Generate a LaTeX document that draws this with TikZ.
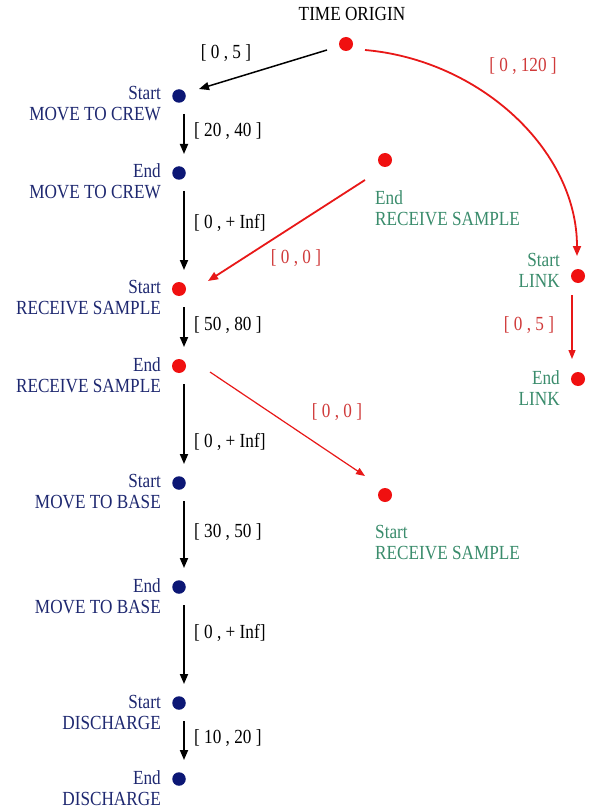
\documentclass[tikz,border=0pt]{standalone}
\usepackage{fontspec}
\setmainfont[FakeStretch=0.86]{Liberation Serif}
\usetikzlibrary{arrows.meta}
\definecolor{navydot}{HTML}{0C1775}
\definecolor{navytxt}{HTML}{1E2870}
\definecolor{greentxt}{HTML}{3A8C6C}
\definecolor{reddot}{HTML}{F01010}
\definecolor{redline}{HTML}{E81818}
\definecolor{redtxt}{HTML}{D03A3A}
\begin{document}
\begin{tikzpicture}[x=1pt,y=-1pt,
  every node/.style={font=\rmfamily\fontsize{20}{21}\selectfont},
  bdot/.style={circle,fill=navydot,inner sep=0pt,minimum size=13.5pt},
  rdot/.style={circle,fill=reddot,inner sep=0pt,minimum size=14pt},
  llab/.style={align=right,anchor=east,inner sep=0pt,text=navytxt},
  glabl/.style={align=left,anchor=west,inner sep=0pt,text=greentxt},
  glabr/.style={align=right,anchor=east,inner sep=0pt,text=greentxt},
  ival/.style={anchor=west,inner sep=0pt,text=black},
  rval/.style={inner sep=0pt,text=redtxt},
  arr/.style={line width=1.8pt,-{Triangle[length=10pt,width=8pt]}},
  rarr/.style={draw=redline,line width=1.8pt,-{Triangle[length=10pt,width=8pt]},color=redline},
  rarrthin/.style={draw=redline,line width=1.2pt,-{Triangle[length=9pt,width=7pt]},color=redline}
]
\useasboundingbox (0,0) rectangle (594,810);
\fill[white] (0,0) rectangle (594,810);

% time origin
\node[inner sep=0pt] (totxt) at (352,14) {TIME ORIGIN};
\node[rdot] (to) at (346,44) {};

% left column dots
\node[bdot] (smc) at (179,96) {};
\node[bdot] (emc) at (179,173) {};
\node[rdot] (srs) at (179,289) {};
\node[rdot] (ers) at (179,366) {};
\node[bdot] (smb) at (179,483) {};
\node[bdot] (emb) at (179,587) {};
\node[bdot] (sd) at (179,703) {};
\node[bdot] (ed) at (179,779) {};

% left labels
\node[llab] (lsmc) at (161,104) {Start\\MOVE TO CREW};
\node[llab] (lemc) at (161,181.5) {End\\MOVE TO CREW};
\node[llab] (lsrs) at (161,298) {Start\\RECEIVE SAMPLE};
\node[llab] (lers) at (161,375) {End\\RECEIVE SAMPLE};
\node[llab] (lsmb) at (161,492) {Start\\MOVE TO BASE};
\node[llab] (lemb) at (161,596) {End\\MOVE TO BASE};
\node[llab] (lsd) at (161,712) {Start\\DISCHARGE};
\node[llab] (led) at (161,788) {End\\DISCHARGE};

% right dots
\node[rdot] (ers2) at (385,160) {};
\node[rdot] (sl) at (578,276) {};
\node[rdot] (el) at (578,379) {};
\node[rdot] (srs2) at (385,495) {};

% right labels
\node[glabl] (lers2) at (375,208.5) {End\\RECEIVE SAMPLE};
\node[glabr] (lsl) at (560,270.5) {Start\\LINK};
\node[glabr] (lel) at (560,388.5) {End\\LINK};
\node[glabl] (lsrs2) at (375,543) {Start\\RECEIVE SAMPLE};

% vertical black arrows
\draw[arr] ([xshift=5pt,yshift=-18pt]smc.center) -- ([xshift=5pt,yshift=19pt]emc.center);
\draw[arr] ([xshift=5pt,yshift=-18pt]emc.center) -- ([xshift=5pt,yshift=19pt]srs.center);
\draw[arr] ([xshift=5pt,yshift=-18pt]srs.center) -- ([xshift=5pt,yshift=19pt]ers.center);
\draw[arr] ([xshift=5pt,yshift=-18pt]ers.center) -- ([xshift=5pt,yshift=19pt]smb.center);
\draw[arr] ([xshift=5pt,yshift=-18pt]smb.center) -- ([xshift=5pt,yshift=19pt]emb.center);
\draw[arr] ([xshift=5pt,yshift=-18pt]emb.center) -- ([xshift=5pt,yshift=19pt]sd.center);
\draw[arr] ([xshift=5pt,yshift=-18pt]sd.center) -- ([xshift=5pt,yshift=19pt]ed.center);

% interval labels left
\node[ival] (i1) at (194,131) {[ 20 , 40 ]};
\node[ival] (i2) at (194,223) {[ 0 , + Inf]};
\node[ival] (i3) at (194,325) {[ 50 , 80 ]};
\node[ival] (i4) at (194,442) {[ 0 , + Inf]};
\node[ival] (i5) at (194,532) {[ 30 , 50 ]};
\node[ival] (i6) at (194,633) {[ 0 , + Inf]};
\node[ival] (i7) at (194,738) {[ 10 , 20 ]};

% time origin to start move to crew
\draw[line width=1.5pt,-{Triangle[length=10pt,width=8pt]}] ([xshift=-19pt,yshift=-6pt]to.center) -- ([xshift=20pt,yshift=7pt]smc.center);
\node[inner sep=0pt] (i0) at (226,53) {[ 0 , 5 ]};

% red curve to start link
\draw[rarr] ([xshift=19pt,yshift=-6pt]to.center) .. controls (480,60) and (577,150) .. ([xshift=-1pt,yshift=20pt]sl.center);
\node[rval] (r120) at (523,66) {[ 0 , 120 ]};

% red: end receive (right) -> start receive (left)
\draw[rarr] ([xshift=-20pt,yshift=-20pt]ers2.center) -- ([xshift=29pt,yshift=8pt]srs.center);
\node[rval] (r00a) at (296,258) {[ 0 , 0 ]};

% red: end receive (left) -> start receive (right)
\draw[rarrthin] ([xshift=31pt,yshift=-6pt]ers.center) -- ([xshift=-20pt,yshift=19pt]srs2.center);
\node[rval] (r00b) at (337,412) {[ 0 , 0 ]};

% red: start link -> end link
\draw[rarrthin] ([xshift=-6pt,yshift=-19pt]sl.center) -- ([xshift=-6pt,yshift=20pt]el.center);
\node[rval] (r05) at (529,325) {[ 0 , 5 ]};
\end{tikzpicture}
\end{document}
